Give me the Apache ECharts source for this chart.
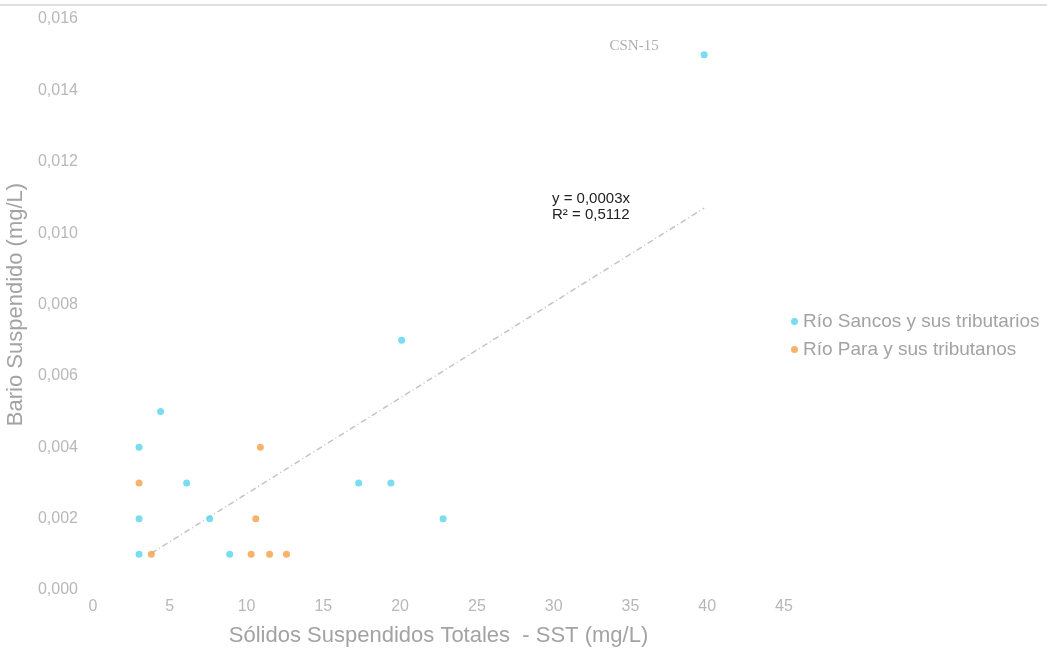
<!DOCTYPE html>
<html>
<head>
<meta charset="utf-8">
<script src="https://cdn.jsdelivr.net/npm/echarts@6/dist/echarts.min.js"></script>
<style>
html,body{margin:0;padding:0;background:#fff;}
#chart{width:1047px;height:648px;}
</style>
</head>
<body>
<div id="chart"></div>
<script>
// Data
var seriesNames = ['Río Sancos y sus tributarios', 'Río Para y sus tributanos'];
var sancosX = [3.0, 3.0, 3.0, 4.4, 6.1, 7.6, 8.9, 17.3, 19.4, 20.1, 22.8, 39.8];
var sancosY = [0.001, 0.002, 0.004, 0.005, 0.003, 0.002, 0.001, 0.003, 0.003, 0.007, 0.002, 0.015];
var paraX = [3.0, 3.8, 10.3, 10.6, 10.9, 11.5, 12.6];
var paraY = [0.003, 0.001, 0.001, 0.002, 0.004, 0.001, 0.001];
var trendX = [3.8, 39.8];
var trendY = [0.00103, 0.0107];
var pointLabel = 'CSN-15';
var equationText = 'y = 0,0003x\nR² = 0,5112';
var xTicks = [0, 5, 10, 15, 20, 25, 30, 35, 40, 45];
var yTicks = [0, 0.002, 0.004, 0.006, 0.008, 0.010, 0.012, 0.014, 0.016];

function zip(a, b) { return a.map(function (v, i) { return [v, b[i]]; }); }

var sancosData = zip(sancosX, sancosY).map(function (p, i) {
  var d = { value: p };
  if (i === sancosX.length - 1) {
    d.label = {
      show: true, formatter: pointLabel, position: 'left', offset: [-37, -9],
      color: '#9a9a9a', fontSize: 15, fontFamily: 'Liberation Serif'
    };
  }
  return d;
});

var chart = echarts.init(document.getElementById('chart'), null, { renderer: 'canvas' });
chart.setOption({
  backgroundColor: '#ffffff',
  animation: false,
  grid: { left: 93, right: 263, top: 19, bottom: 58, containLabel: false, outerBoundsMode: 'none' },
  xAxis: {
    type: 'value', min: 0, max: 45, interval: 5,
    name: 'Sólidos Suspendidos Totales  - SST (mg/L)',
    nameLocation: 'middle', nameGap: 35,
    nameTextStyle: { color: '#a3a3a3', fontSize: 22, fontFamily: 'Liberation Sans' },
    axisLine: { show: false }, axisTick: { show: false }, splitLine: { show: false },
    axisLabel: { color: '#b8b8b8', fontSize: 16, margin: 9, fontFamily: 'Liberation Sans' }
  },
  yAxis: {
    type: 'value', min: 0, max: 0.016, interval: 0.002,
    name: 'Bario Suspendido (mg/L)',
    nameLocation: 'middle', nameGap: 56,
    nameTextStyle: { color: '#a3a3a3', fontSize: 22, fontFamily: 'Liberation Sans' },
    axisLine: { show: false }, axisTick: { show: false }, splitLine: { show: false },
    axisLabel: {
      color: '#b8b8b8', fontSize: 16, margin: 15, fontFamily: 'Liberation Sans',
      formatter: function (v) { return v.toFixed(3).replace('.', ','); }
    }
  },
  legend: {
    orient: 'vertical', left: 786, top: 307,
    icon: 'circle', itemWidth: 7, itemHeight: 7, itemGap: 9,
    textStyle: { color: '#a3a3a3', fontSize: 19, fontFamily: 'Liberation Sans' },
    data: seriesNames
  },
  graphic: [
    { type: 'rect', left: 0, top: 4, shape: { width: 1047, height: 2 }, style: { fill: '#dedede' }, silent: true },
    { type: 'text', left: 552, top: 191, style: { text: equationText, fill: '#222', fontSize: 15, lineHeight: 16, fontFamily: 'Liberation Sans' } }
  ],
  series: [
    {
      name: 'Tendencia', type: 'line', data: zip(trendX, trendY), symbol: 'none',
      lineStyle: { color: '#c4c4c4', width: 1.5, type: [6, 3, 1, 3] }, z: 1, silent: true
    },
    {
      name: seriesNames[0], type: 'scatter', data: sancosData, symbol: 'circle', symbolSize: 7,
      itemStyle: { color: '#58d4ee' }, z: 3
    },
    {
      name: seriesNames[1], type: 'scatter', data: zip(paraX, paraY), symbol: 'circle', symbolSize: 7,
      itemStyle: { color: '#f5a04a' }, z: 3
    }
  ]
});
</script>
</body>
</html>
